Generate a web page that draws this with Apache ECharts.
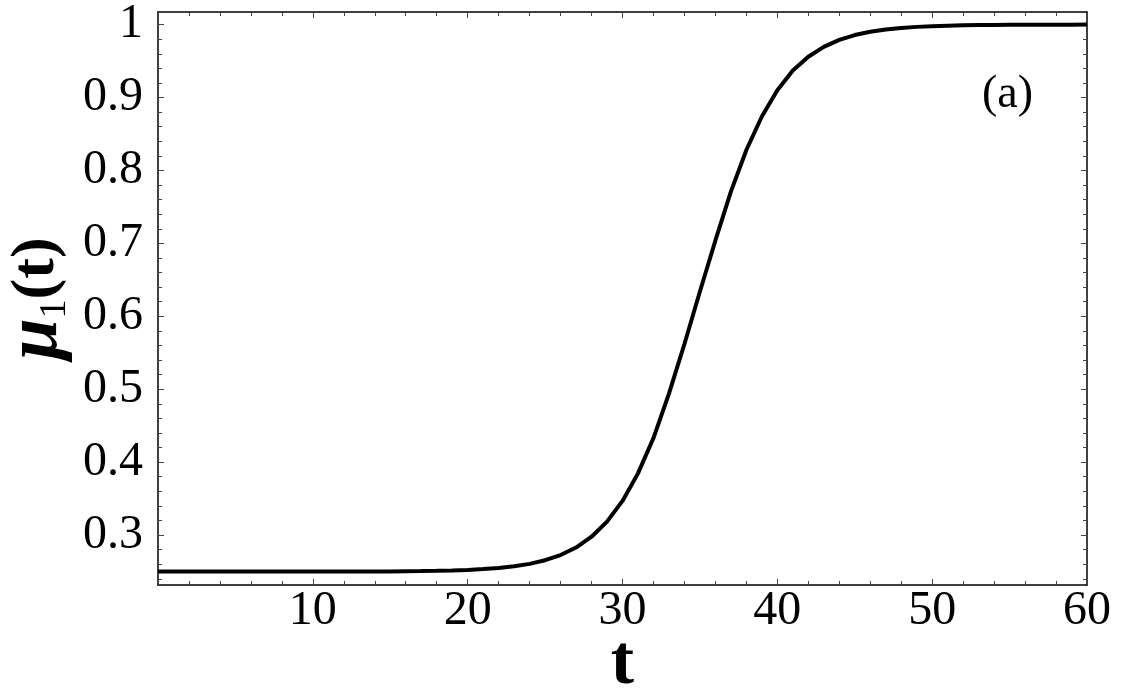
<!DOCTYPE html>
<html>
<head>
<meta charset="utf-8">
<title>mu1(t)</title>
<script src="https://cdn.jsdelivr.net/npm/echarts@6/dist/echarts.min.js"></script>
<style>
  html, body { margin: 0; padding: 0; background: #fff; }
  #chart { width: 1127px; height: 697px; }
</style>
</head>
<body>
<div id="chart"></div>
<script>
const tValues = [
  0, 1, 2, 3, 4, 5, 6, 7, 8, 9,
  10, 11, 12, 13, 14, 15, 16, 17, 18, 19,
  20, 21, 22, 23, 24, 25, 26, 27, 28, 29,
  30, 31, 32, 33, 34, 35, 36, 37, 38, 39,
  40, 41, 42, 43, 44, 45, 46, 47, 48, 49,
  50, 51, 52, 53, 54, 55, 56, 57, 58, 59, 60
]
const muValues = [
  0.250, 0.250, 0.250, 0.250, 0.250, 0.250, 0.250, 0.250, 0.250, 0.250,
  0.250, 0.250, 0.250, 0.250, 0.250, 0.250, 0.2505, 0.2507, 0.251, 0.2515,
  0.2522, 0.2533, 0.2549, 0.2572, 0.2605, 0.2655, 0.2726, 0.2829, 0.2977, 0.3184,
  0.3468, 0.3846, 0.433, 0.494, 0.562, 0.634, 0.704, 0.771, 0.828, 0.874,
  0.910, 0.937, 0.956, 0.9695, 0.979, 0.9857, 0.9902, 0.9934, 0.9955, 0.9969,
  0.9979, 0.9986, 0.9991, 0.9994, 0.9996, 0.9997, 0.9998, 0.9998, 0.9999, 0.9999, 1.0
]
// axis ranges and ticks
const xMin = 0
const xMax = 60
const xStep = 10
const yMin = 0.2315
const yMax = 1.0173
const yTicks = [0.3, 0.4, 0.5, 0.6, 0.7, 0.8, 0.9, 1]
const yMinorTicks = [
  0.24, 0.26, 0.28, 0.32, 0.34, 0.36, 0.38, 0.42, 0.44, 0.46, 0.48,
  0.52, 0.54, 0.56, 0.58, 0.62, 0.64, 0.66, 0.68, 0.72, 0.74, 0.76, 0.78,
  0.82, 0.84, 0.86, 0.88, 0.92, 0.94, 0.96, 0.98
]

const serif = '"Liberation Serif", "DejaVu Serif", serif'
const chartInstance = echarts.init(document.getElementById('chart'))

// 内向刻度，上下左右都画
function xAxisOf (position, showLabel) {
  return {
    type: 'value',
    position: position,
    min: xMin,
    max: xMax,
    interval: xStep,
    splitLine: { show: false },
    axisLine: { show: true, onZero: false, lineStyle: { color: '#000', width: 1.5 } },
    axisTick: { show: true, inside: true, length: 6, lineStyle: { color: '#444', width: 1 } },
    minorTick: { show: true, splitNumber: 5, length: 4, lineStyle: { color: '#444', width: 1 } },
    axisLabel: {
      show: showLabel,
      showMinLabel: false,
      margin: 2,
      color: '#000',
      fontFamily: serif,
      fontSize: 48
    }
  }
}

function yAxisOf (position, ticks, len, showLabel, showLine) {
  return {
    type: 'value',
    position: position,
    min: yMin,
    max: yMax,
    splitLine: { show: false },
    axisLine: { show: showLine, onZero: false, lineStyle: { color: '#000', width: 1.5 } },
    axisTick: { show: true, inside: true, length: len, customValues: ticks, lineStyle: { color: '#444', width: 1 } },
    axisLabel: {
      show: showLabel,
      customValues: ticks,
      margin: 15,
      color: '#000',
      fontFamily: serif,
      fontSize: 48,
      formatter: v => String(Math.round(v * 10) / 10)
    }
  }
}

const yLeft = yAxisOf('left', yTicks, 6, true, true)
yLeft.name = '{mu|μ}{sub|1}{p|(t)}'
yLeft.nameLocation = 'middle'
yLeft.nameRotate = 90
yLeft.nameGap = 84
yLeft.nameMoveOverlap = false
yLeft.nameTextStyle = {
  rich: {
    mu: { fontFamily: serif, fontSize: 74, fontStyle: 'italic', fontWeight: 'bold', color: '#000' },
    sub: { fontFamily: serif, fontSize: 38, color: '#000', verticalAlign: 'bottom', padding: [16, 0, 0, 0] },
    p: { fontFamily: serif, fontSize: 62, fontWeight: 'bold', color: '#000' }
  }
}

const xBottom = xAxisOf('bottom', true)
xBottom.name = 't'
xBottom.nameLocation = 'middle'
xBottom.nameGap = 45
xBottom.nameMoveOverlap = false
xBottom.nameTextStyle = { fontFamily: serif, fontSize: 70, fontWeight: 'bold', color: '#000' }

const option = {
  animation: false,
  backgroundColor: '#fff',
  grid: { left: 158, right: 40, top: 12, bottom: 112, outerBoundsMode: 'none' },
  xAxis: [xBottom, xAxisOf('top', false)],
  yAxis: [
    yLeft,
    yAxisOf('left', yMinorTicks, 4, false, false),
    yAxisOf('right', yTicks, 6, false, true),
    yAxisOf('right', yMinorTicks, 4, false, false)
  ],
  graphic: [
    {
      type: 'text',
      left: 982,
      top: 72,
      style: { text: '(a)', font: '46px ' + serif, fill: '#000' }
    }
  ],
  series: [
    {
      type: 'line',
      xAxisIndex: 0,
      yAxisIndex: 0,
      showSymbol: false,
      smooth: false,
      lineStyle: { color: '#000', width: 4 },
      data: tValues.map((t, i) => [t, muValues[i]])
    }
  ]
}
chartInstance.setOption(option)
</script>
</body>
</html>
